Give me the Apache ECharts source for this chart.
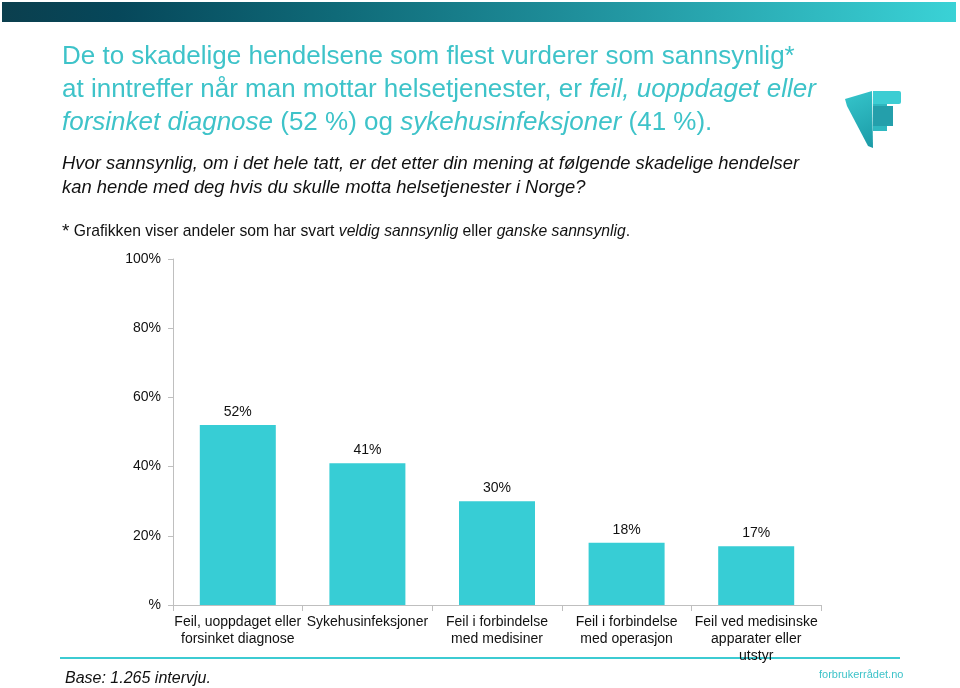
<!DOCTYPE html>
<html>
<head>
<meta charset="utf-8">
<script src="https://cdn.jsdelivr.net/npm/echarts@6/dist/echarts.min.js"></script>
<style>html,body{margin:0;padding:0;background:#fff;}#c{width:960px;height:688px;}</style>
</head>
<body>
<div id="c"></div>
<script>
const categories = [
  'Feil, uoppdaget eller\nforsinket diagnose',
  'Sykehusinfeksjoner',
  'Feil i forbindelse\nmed medisiner',
  'Feil i forbindelse\nmed operasjon',
  'Feil ved medisinske\napparater eller\nutstyr'
];
const values = [52, 41, 30, 18, 17];
const yTicks = [0, 20, 40, 60, 80, 100];

const FONT = '"Liberation Sans", Arial, sans-serif';
const TEAL = '#3ec3c9';
const chart = echarts.init(document.getElementById('c'), null, {renderer: 'canvas'});

chart.setOption({
  backgroundColor: '#fff',
  animation: false,
  grid: {left: 173, right: 139, top: 259, bottom: 83, containLabel: false},
  xAxis: {
    type: 'category',
    data: categories,
    axisLine: {lineStyle: {color: '#bfbfbf', width: 1}},
    axisTick: {show: true, length: 6, lineStyle: {color: '#bfbfbf'}},
    axisLabel: {interval: 0, color: '#111', fontFamily: FONT, fontSize: 14, lineHeight: 17, margin: 9}
  },
  yAxis: {
    type: 'value',
    min: yTicks[0], max: yTicks[yTicks.length - 1], interval: 20,
    axisLine: {show: true, lineStyle: {color: '#bfbfbf', width: 1}},
    axisTick: {show: true, length: 5, lineStyle: {color: '#bfbfbf'}},
    splitLine: {show: false},
    axisLabel: {color: '#111', fontFamily: FONT, fontSize: 14, margin: 12,
      formatter: v => v === 0 ? '%' : v + '%'}
  },
  series: [{
    type: 'bar',
    data: values,
    barWidth: 76,
    itemStyle: {color: '#37cdd5'},
    label: {show: true, position: 'top', distance: 6, formatter: '{c}%',
      color: '#111', fontFamily: FONT, fontSize: 14}
  }],
  graphic: [
    {type: 'rect', shape: {x: 2, y: 2, width: 954, height: 20},
      style: {fill: new echarts.graphic.LinearGradient(0, 0, 1, 0, [
        {offset: 0, color: '#0b3f4e'},
        {offset: 0.12, color: '#06475a'},
        {offset: 0.35, color: '#0f6a78'},
        {offset: 0.6, color: '#1f8f9b'},
        {offset: 1, color: '#3ad2d6'}])}},
    // logo
    {type: 'polygon', shape: {points: [[845, 99], [872, 91], [873, 148], [868, 146], [847, 106]]},
      style: {fill: new echarts.graphic.LinearGradient(0, 0, 1, 1, [
        {offset: 0, color: '#36c6cc'}, {offset: 1, color: '#1b9aa6'}])}},
    {type: 'rect', shape: {x: 873, y: 91, width: 14, height: 40},
      style: {fill: '#2fb8c0'}},
    {type: 'rect', shape: {x: 873, y: 91, width: 28, height: 13, r: [0, 2, 2, 0]},
      style: {fill: '#3ccdd3'}},
    {type: 'rect', shape: {x: 873, y: 106, width: 20, height: 20},
      style: {fill: '#249fab'}},
    // title
    {type: 'text', x: 62, y: 44, style: {
      text: 'De to skadelige hendelsene som flest vurderer som sannsynlig*',
      font: '26px ' + FONT, fill: TEAL}},
    {type: 'text', x: 62, y: 77, style: {
      text: '{n|at inntreffer når man mottar helsetjenester, er }{i|feil, uoppdaget eller}',
      rich: {n: {font: '26px ' + FONT, fill: TEAL}, i: {font: 'italic 26px ' + FONT, fill: TEAL}}}},
    {type: 'text', x: 62, y: 110, style: {
      text: '{i|forsinket diagnose}{n| (52 %) og }{i|sykehusinfeksjoner}{n| (41 %).}',
      rich: {n: {font: '26px ' + FONT, fill: TEAL}, i: {font: 'italic 26px ' + FONT, fill: TEAL}}}},
    // question
    {type: 'text', x: 62, y: 155, style: {
      text: 'Hvor sannsynlig, om i det hele tatt, er det etter din mening at følgende skadelige hendelser',
      font: 'italic 18.4px ' + FONT, fill: '#111'}},
    {type: 'text', x: 62, y: 179, style: {
      text: 'kan hende med deg hvis du skulle motta helsetjenester i Norge?',
      font: 'italic 18.4px ' + FONT, fill: '#111'}},
    {type: 'text', x: 62, y: 222, style: {
      text: '{s|*}{n| Grafikken viser andeler som har svart }{i|veldig sannsynlig}{n| eller }{i|ganske sannsynlig}{n|.}',
      rich: {s: {font: '19px ' + FONT, fill: '#111'}, n: {font: '15.7px ' + FONT, fill: '#111'},
        i: {font: 'italic 15.7px ' + FONT, fill: '#111'}}}},
    // bottom
    {type: 'line', shape: {x1: 60, y1: 658, x2: 900, y2: 658},
      style: {stroke: '#3ccbd2', lineWidth: 2}},
    {type: 'text', x: 65, y: 671, style: {text: 'Base: 1.265 intervju.',
      font: 'italic 16px ' + FONT, fill: '#111'}},
    {type: 'text', x: 819, y: 669, style: {text: 'forbrukerrådet.no',
      font: '11px ' + FONT, fill: TEAL}}
  ]
});
</script>
</body>
</html>
